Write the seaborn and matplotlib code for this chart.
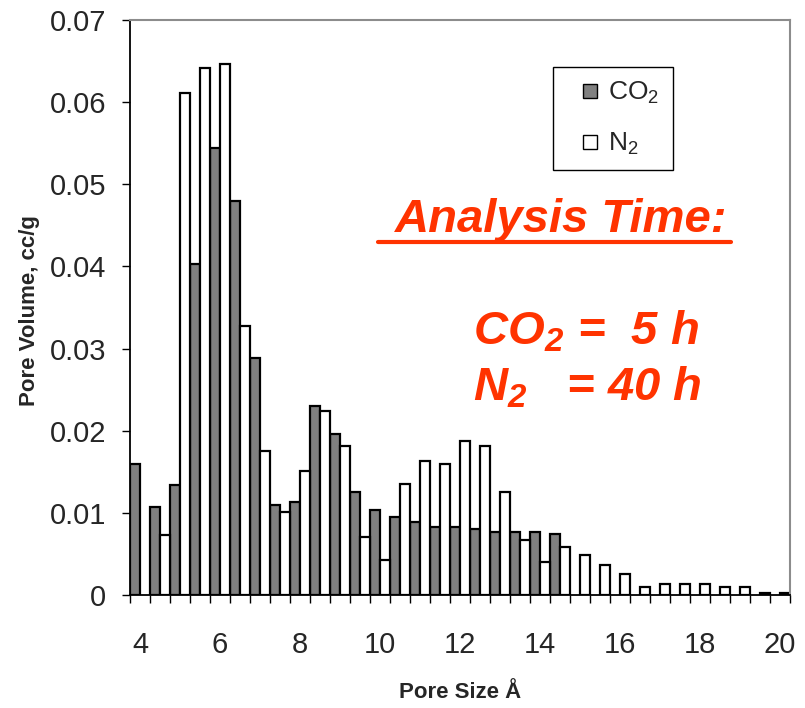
import matplotlib
matplotlib.use("Agg")
import numpy as np
import pandas as pd
import matplotlib.pyplot as plt
from matplotlib import font_manager
from matplotlib.lines import Line2D
import seaborn as sns

# Pore size bins (Å)
pore_size = [4.0, 4.5, 5.0, 5.5, 6.0, 6.5, 7.0, 7.5, 8.0, 8.5, 9.0,
             9.5, 10.0, 10.5, 11.0, 11.5, 12.0, 12.5, 13.0, 13.5, 14.0,
             14.5, 15.0, 15.5, 16.0, 16.5, 17.0, 17.5, 18.0, 18.5, 19.0,
             19.5, 20.0]

# Incremental pore volume (cc/g) from CO2 adsorption
co2_volume = [0.0159, 0.0107, 0.0134, 0.0403, 0.0544, 0.0480, 0.0288,
              0.0110, 0.0113, 0.0230, 0.0196, 0.0126, 0.0104, 0.0095,
              0.0089, 0.0083, 0.0083, 0.0080, 0.0077, 0.0077, 0.0077,
              0.0074, 0.0, 0.0, 0.0, 0.0, 0.0, 0.0, 0.0, 0.0, 0.0,
              0.0, 0.0]

# Incremental pore volume (cc/g) from N2 adsorption
n2_volume = [0.0, 0.0073, 0.0611, 0.0642, 0.0647, 0.0327, 0.0175,
             0.0101, 0.0151, 0.0224, 0.0181, 0.0071, 0.0043, 0.0135,
             0.0163, 0.0160, 0.0187, 0.0181, 0.0126, 0.0067, 0.0040,
             0.0058, 0.0049, 0.0037, 0.0025, 0.0010, 0.0013, 0.0013,
             0.0013, 0.0010, 0.0010, 0.0003, 0.0003]

x_tick_labels = ["4", "6", "8", "10", "12", "14", "16", "18", "20"]
y_ticks = [0.0, 0.01, 0.02, 0.03, 0.04, 0.05, 0.06, 0.07]
y_tick_labels = ["0", "0.01", "0.02", "0.03", "0.04", "0.05", "0.06", "0.07"]

gases = ["CO2", "N2"]
palette = {"CO2": "#808080", "N2": "#ffffff"}
orange = "#ff3300"

sns.set_style("ticks")
installed = {f.name for f in font_manager.fontManager.ttflist}
base = "Liberation Sans Narrow" if "Liberation Sans Narrow" in installed else "Liberation Sans"
plt.rcParams["font.family"] = [base, "DejaVu Sans"]
plt.rcParams["mathtext.fontset"] = "custom"
plt.rcParams["mathtext.rm"] = base
plt.rcParams["mathtext.it"] = base + ":italic"
plt.rcParams["mathtext.bf"] = base + ":bold"
plt.rcParams["mathtext.bfit"] = "Liberation Sans:bold:italic"

order = [f"{s:.1f}" for s in pore_size]
rows = []
for s, c, n in zip(order, co2_volume, n2_volume):
    if c > 0:
        rows.append({"size": s, "volume": c, "gas": "CO2"})
    if n > 0:
        rows.append({"size": s, "volume": n, "gas": "N2"})
df = pd.DataFrame(rows)

fig = plt.figure(figsize=(8.05, 7.08), dpi=100)
ax = fig.add_axes([130 / 805, 1 - 595 / 708, 660 / 805, 575 / 708])

sns.barplot(data=df, x="size", y="volume", hue="gas", order=order,
            hue_order=gases, palette=palette, edgecolor="black",
            linewidth=1.6, width=0.97, gap=0, errorbar=None,
            legend=False, ax=ax)

# Axes limits and ticks
ax.set_xlim(-0.5, len(order) - 0.5)
ax.set_ylim(0, 0.07)
ax.set_xticks(np.arange(0, len(order), 4), labels=x_tick_labels)
ax.set_xticks(np.arange(-0.5, len(order), 1), minor=True)
ax.tick_params(axis="x", which="major", length=0, pad=26, labelsize=21)
ax.tick_params(axis="x", which="minor", length=6, width=1.0, direction="out",
               color="black")
ax.set_yticks(y_ticks, labels=y_tick_labels)
ax.tick_params(axis="y", which="major", length=6, width=1.0, direction="out",
               pad=11, labelsize=21, color="black")

for side in ("left", "bottom"):
    ax.spines[side].set_color("black")
    ax.spines[side].set_linewidth(1.3)
for side in ("top", "right"):
    ax.spines[side].set_visible(True)
    ax.spines[side].set_color("#8c8c8c")
    ax.spines[side].set_linewidth(1.5)

ax.set_xlabel("Pore Size Å", fontsize=16, fontweight="bold", va="center")
ax.xaxis.set_label_coords(0.5, -0.169)
ax.set_ylabel("Pore Volume, cc/g", fontsize=16, fontweight="bold", va="center")
ax.yaxis.set_label_coords(-0.152, 0.494)

# Legend with square swatches
handles = [Line2D([], [], linestyle="none", marker="s", markersize=10,
                  markerfacecolor=palette[g], markeredgecolor="black",
                  markeredgewidth=1.0) for g in gases]
leg = ax.legend(handles, [r"CO$_2$", r"N$_2$"], loc="upper left",
                bbox_to_anchor=(553 / 805, 1 - 67 / 708),
                bbox_transform=fig.transFigure, fontsize=19, frameon=True,
                fancybox=False, framealpha=1, edgecolor="black",
                borderpad=0.5, handlelength=1.8, handletextpad=-0.2,
                labelspacing=0.93, borderaxespad=0)
leg.get_frame().set_linewidth(1.0)

# Annotation of analysis times
txt_kw = dict(fontsize=34, fontweight="bold", fontstyle="italic",
              family="Liberation Sans", color=orange)
fig.text(561 / 805, 1 - 232 / 708, "Analysis Time:", ha="center",
         va="baseline", **txt_kw)
fig.add_artist(Line2D([378 / 805, 731 / 805], [1 - 242 / 708] * 2,
                      color=orange, linewidth=3, transform=fig.transFigure))
fig.text(473 / 805, 1 - 345 / 708, r"CO$_\mathbfit{2}$ =  5 h",
         ha="left", va="baseline", **txt_kw)
fig.text(473 / 805, 1 - 400 / 708, r"N$_\mathbfit{2}$   = 40 h",
         ha="left", va="baseline", **txt_kw)

fig.savefig("out.png", dpi=100)
